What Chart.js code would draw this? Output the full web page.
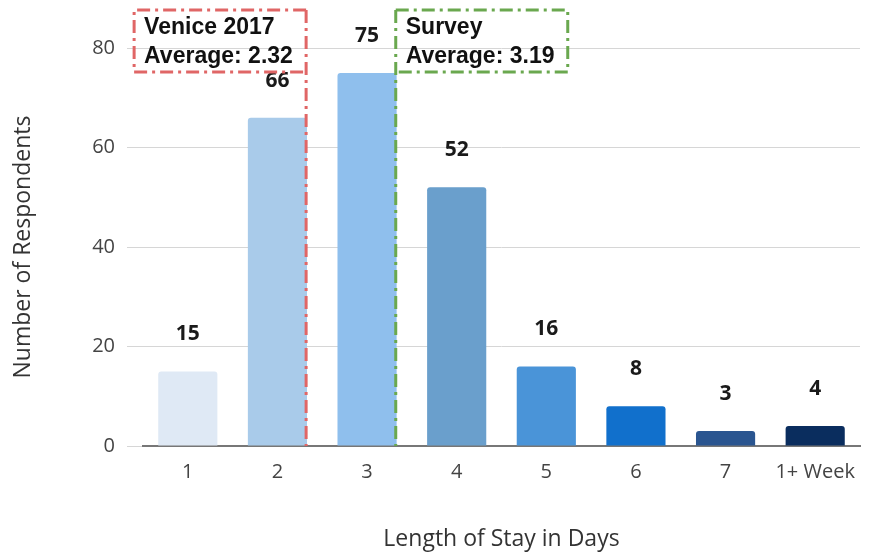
<!DOCTYPE html>
<html>
<head>
<meta charset="utf-8">
<script src="https://cdn.jsdelivr.net/npm/chart.js@4.4.0/dist/chart.umd.min.js"></script>
<style>
  html, body { margin: 0; padding: 0; background: #fff; }
  #wrap { width: 869px; height: 555px; }
</style>
</head>
<body>
<div id="wrap"><canvas id="stayChart" width="869" height="555"></canvas></div>
<script>
// données
const categories = ['1', '2', '3', '4', '5', '6', '7', '1+ Week'];
const respondents = [15, 66, 75, 52, 16, 8, 3, 4];
const barColors = ['#dfe9f5', '#a9cbea', '#8fbfed', '#6a9fcc', '#4a94d8', '#1170cc', '#2a5590', '#0a2d5e'];
const yTicks = [0, 20, 40, 60, 80];

// lignes des moyennes (position sur l'axe des catégories, index)
const avgNames = ['Venice 2017', 'Survey'];
const avgLabels = ['Average: 2.32', 'Average: 3.19'];
const avgPositions = [1.32, 2.32];
const avgColors = ['#e06666', '#6aa84f'];
const avgSide = ['left', 'right'];

// valeurs au-dessus des barres
const valueLabels = {
  id: 'valueLabels',
  afterDatasetsDraw(chart) {
    const ctx = chart.ctx;
    const meta = chart.getDatasetMeta(0);
    ctx.save();
    ctx.font = 'bold 21px "Open Sans", sans-serif';
    ctx.fillStyle = '#1a1a1a';
    ctx.textAlign = 'center';
    ctx.textBaseline = 'middle';
    meta.data.forEach((bar, i) => {
      ctx.fillText(String(respondents[i]), bar.x, bar.y - 37);
    });
    ctx.restore();
  }
};

// lignes pointillées + cadres
const avgLines = {
  id: 'avgLines',
  afterDatasetsDraw(chart) {
    const ctx = chart.ctx;
    const x = chart.scales.x;
    const area = chart.chartArea;
    const boxW = 172, boxTop = 10, boxBottom = 72;
    ctx.save();
    avgPositions.forEach((pos, i) => {
      const px = x.getPixelForValue(pos);
      ctx.strokeStyle = avgColors[i];
      ctx.lineWidth = 3;
      ctx.setLineDash([13, 5, 3, 5]);
      // ligne verticale
      ctx.beginPath();
      ctx.moveTo(px, boxTop);
      ctx.lineTo(px, area.bottom);
      ctx.stroke();
      // cadre
      const left = avgSide[i] === 'left' ? px - boxW : px;
      const far = avgSide[i] === 'left' ? left : px + boxW;
      ctx.beginPath();
      ctx.moveTo(px, boxTop);
      ctx.lineTo(far, boxTop);
      ctx.lineTo(far, boxBottom);
      ctx.lineTo(px, boxBottom);
      ctx.stroke();
      // texte
      ctx.setLineDash([]);
      ctx.fillStyle = '#111';
      ctx.font = 'bold 23px "Liberation Sans", Arial, sans-serif';
      ctx.textAlign = 'left';
      ctx.textBaseline = 'middle';
      ctx.fillText(avgNames[i], left + 10, 28);
      ctx.fillText(avgLabels[i], left + 10, 57);
    });
    ctx.restore();
  }
};

const ctx = document.getElementById('stayChart').getContext('2d');
new Chart(ctx, {
  type: 'bar',
  data: {
    labels: categories,
    datasets: [{
      data: respondents,
      backgroundColor: barColors,
      borderRadius: { topLeft: 3, topRight: 3 },
      borderSkipped: 'bottom',
      barPercentage: 0.66,
      categoryPercentage: 1
    }]
  },
  options: {
    responsive: false,
    animation: false,
    devicePixelRatio: 1,
    layout: { padding: { top: 48, right: 9, left: 0, bottom: 0 } },
    plugins: {
      legend: { display: false },
      tooltip: { enabled: false }
    },
    scales: {
      x: {
        grid: { display: false },
        border: { display: true, color: '#777', width: 2 },
        ticks: {
          color: '#444',
          font: { family: '"Open Sans", sans-serif', size: 20 },
          padding: 6,
          maxRotation: 0
        },
        title: {
          display: true,
          text: 'Length of Stay in Days',
          color: '#333',
          font: { family: '"Open Sans", sans-serif', size: 23 },
          padding: { top: 0, bottom: 2 }
        },
        afterFit(scale) { scale.height = 109; }
      },
      y: {
        min: 0,
        max: 80,
        afterBuildTicks(scale) { scale.ticks = yTicks.map(v => ({ value: v })); },
        grid: { color: '#d6d6d6', lineWidth: 1, tickLength: 16, drawTicks: true },
        border: { display: false },
        ticks: {
          color: '#444',
          font: { family: '"Open Sans", sans-serif', size: 20 },
          padding: 12
        },
        title: {
          display: true,
          text: 'Number of Respondents',
          color: '#333',
          font: { family: '"Open Sans", sans-serif', size: 23 },
          padding: { top: 10, bottom: 0 }
        },
        afterFit(scale) { scale.width = 143; }
      }
    }
  },
  plugins: [valueLabels, avgLines]
});
</script>
</body>
</html>
